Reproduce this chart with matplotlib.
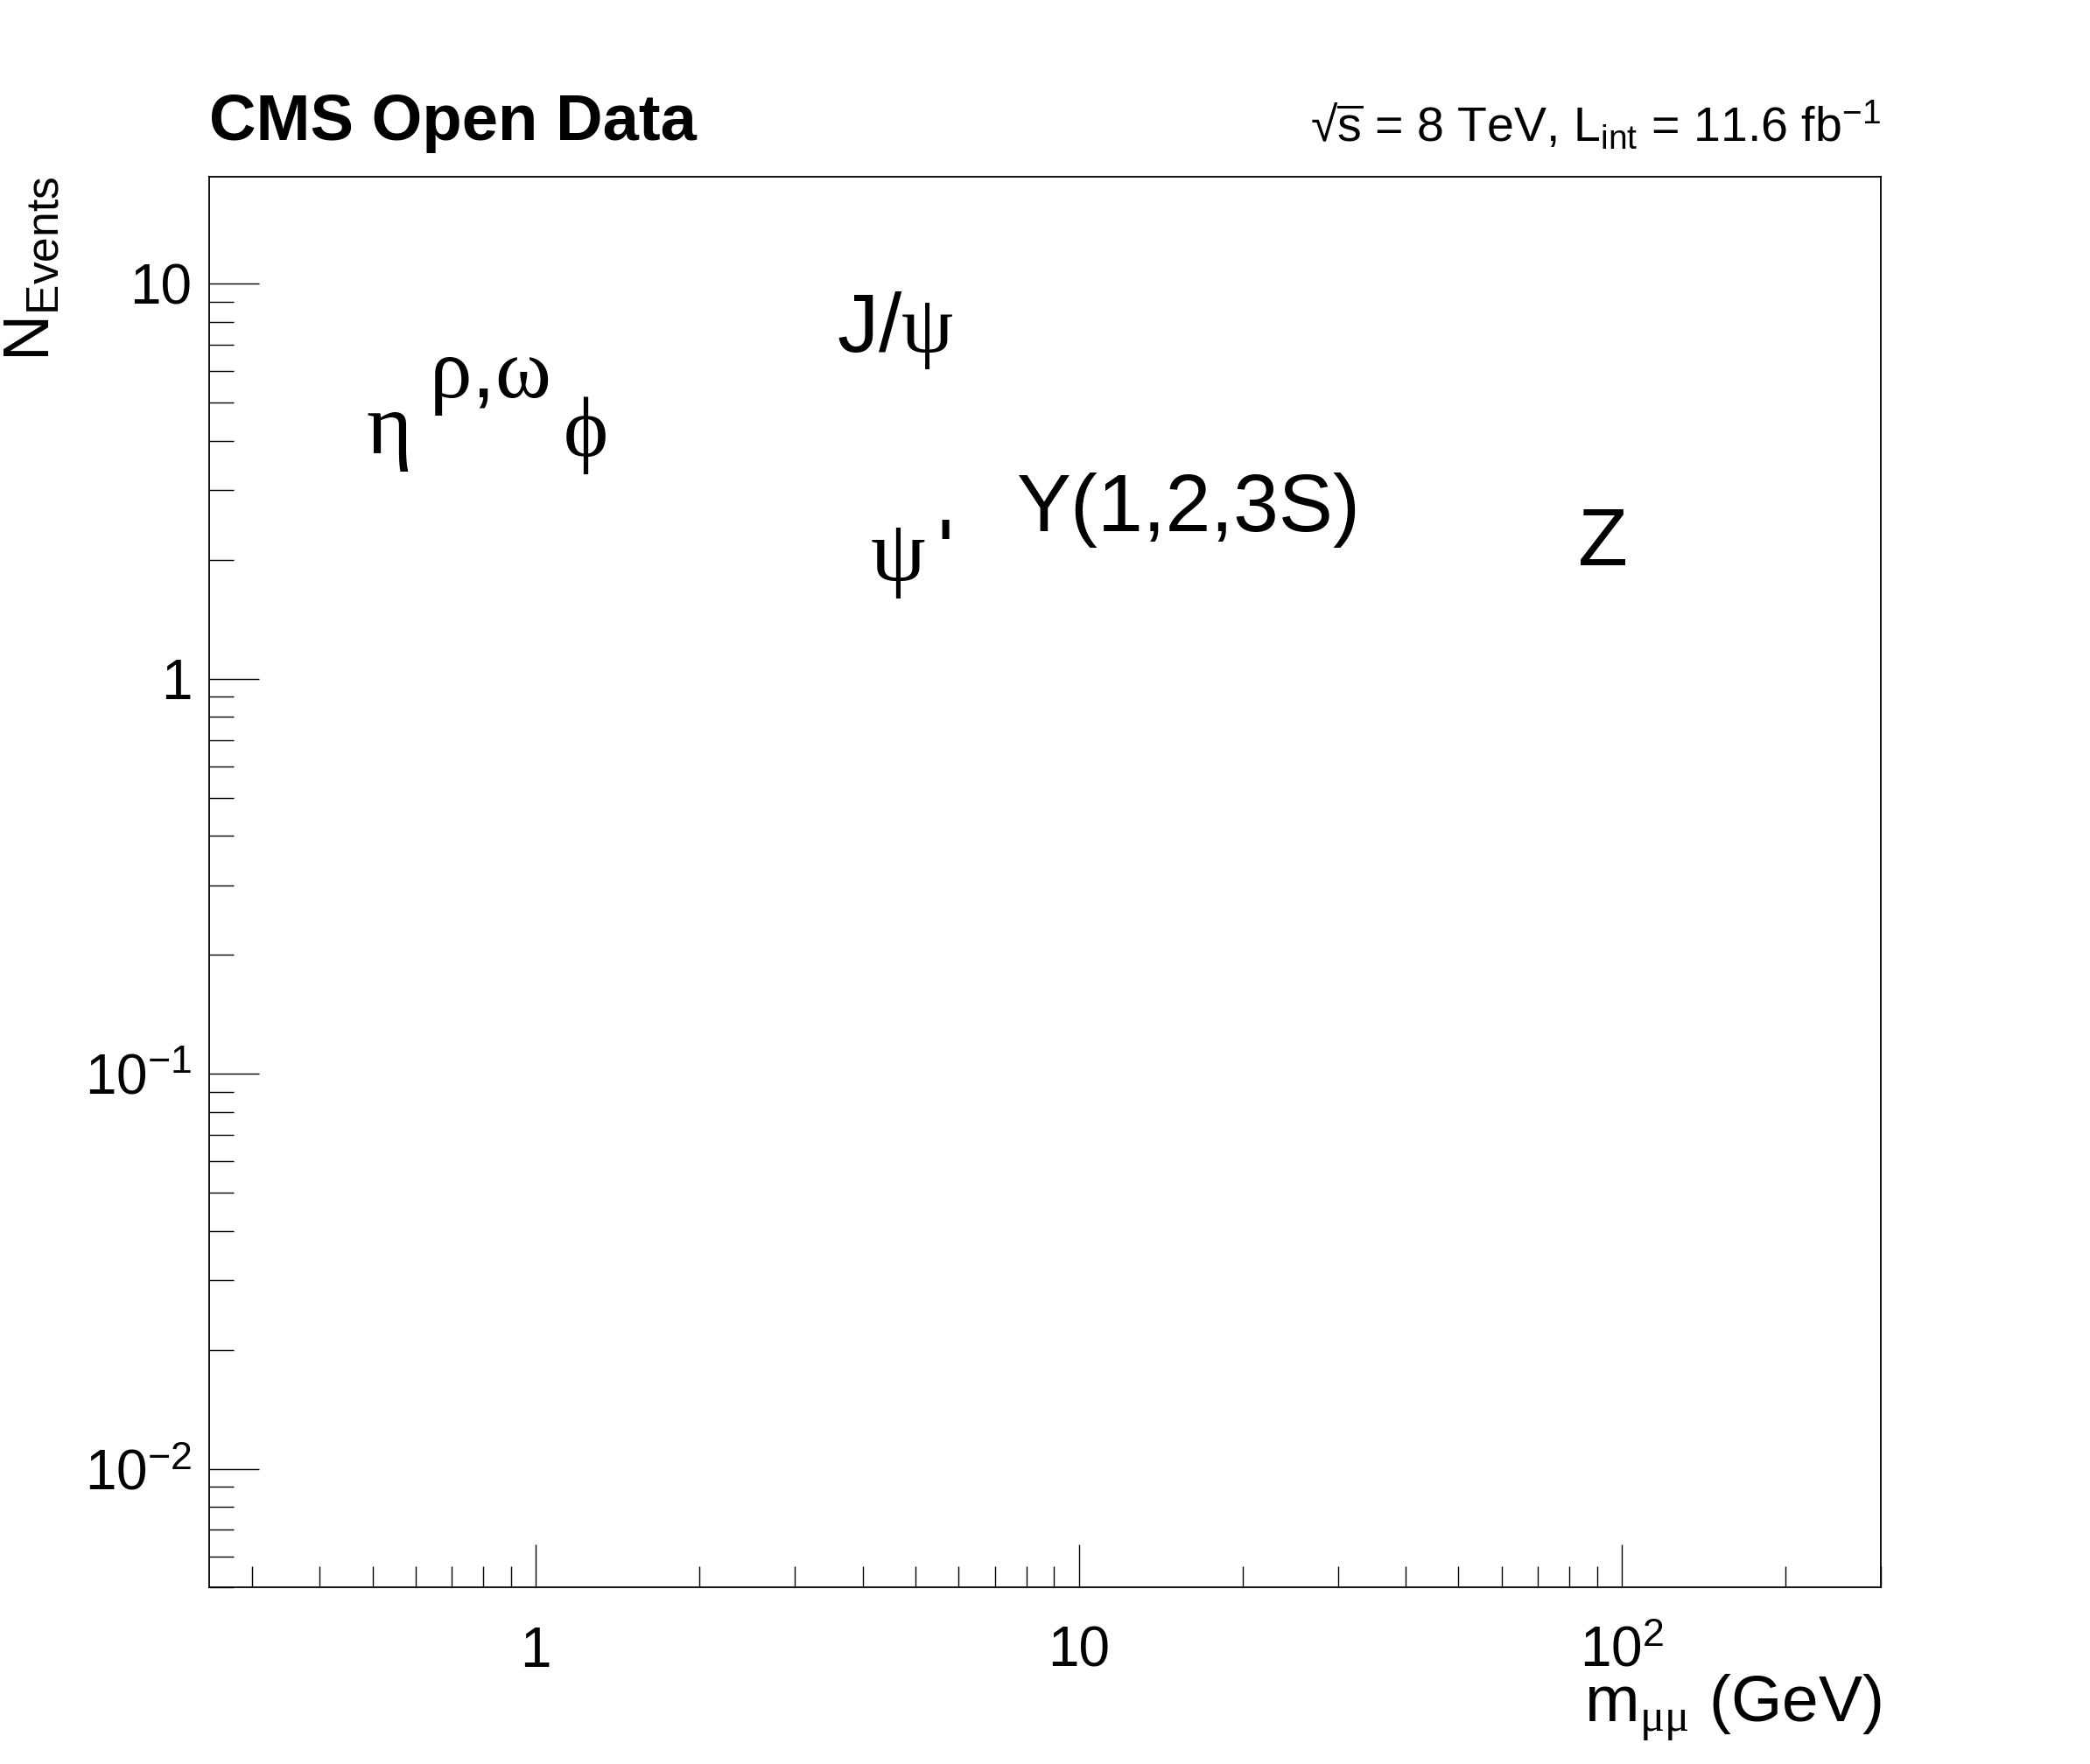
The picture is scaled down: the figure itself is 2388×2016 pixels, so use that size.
import matplotlib
matplotlib.use("Agg")
import matplotlib.pyplot as plt
from matplotlib.ticker import LogLocator, FuncFormatter, NullFormatter
import numpy as np

plt.rcParams['font.family'] = ['Liberation Sans', 'DejaVu Sans']
plt.rcParams['mathtext.fontset'] = 'custom'
plt.rcParams['mathtext.rm'] = 'Liberation Sans'
plt.rcParams['mathtext.it'] = 'Liberation Sans:italic'
plt.rcParams['mathtext.bf'] = 'Liberation Sans:bold'
plt.rcParams['mathtext.sf'] = 'Liberation Serif'

# ---- data ----
resonance_labels = [r'$\mathsf{\eta}$', r'$\mathsf{\rho}$,$\mathsf{\omega}$', r'$\mathsf{\phi}$',
                    r'J/$\mathsf{\psi}$', r"$\mathsf{\psi}\,$'", 'Y(1,2,3S)', 'Z']
resonance_x = [0.487, 0.636, 1.12, 3.58, 4.12, 7.69, 83.0]
resonance_y = [3.73, 5.16, 3.66, 6.73, 1.78, 2.37, 1.94]
resonance_size = [72, 70, 70, 68, 72, 67, 67]
x_limits = [0.25, 300.0]
y_limits = [0.005, 18.7]
title_left = 'CMS Open Data'
title_right = r'√$\overline{\mathrm{s}}$ = 8 TeV, L$_{\mathrm{int}}$ = 11.6 fb$^{\mathrm{-1}}$'
x_title = r'm$_{\mathsf{\mu\mu}}$ (GeV)'
y_title = r'N$_{\mathrm{Events}}$'

W, H = 2388, 2016
fig = plt.figure(figsize=(W / 100, H / 100), dpi=100)
ax = fig.add_axes([0.1, 0.1, 0.8, 0.8])
ax.set_xscale('log')
ax.set_yscale('log')
ax.set_xlim(*x_limits)
ax.set_ylim(*y_limits)

for sp in ax.spines.values():
    sp.set_linewidth(1.3)


def fmt(v, pos):
    e = int(round(np.log10(v)))
    if e == 0:
        return '1'
    if e == 1:
        return '10'
    return r'$\mathrm{10^{%d}}$' % e


ax.xaxis.set_major_locator(LogLocator(base=10, numticks=20))
ax.yaxis.set_major_locator(LogLocator(base=10, numticks=20))
ax.xaxis.set_minor_locator(LogLocator(base=10, subs=np.arange(2, 10), numticks=50))
ax.yaxis.set_minor_locator(LogLocator(base=10, subs=np.arange(2, 10), numticks=50))
ax.xaxis.set_major_formatter(FuncFormatter(fmt))
ax.yaxis.set_major_formatter(FuncFormatter(fmt))
ax.xaxis.set_minor_formatter(NullFormatter())
ax.yaxis.set_minor_formatter(NullFormatter())

ax.tick_params(axis='both', which='both', direction='in', top=False, right=False,
               labelsize=46, width=1.0)
ax.tick_params(axis='y', which='major', length=41, pad=14)
ax.tick_params(axis='y', which='minor', length=20.5)
ax.tick_params(axis='x', which='major', length=35, pad=65)
ax.tick_params(axis='x', which='minor', length=17.5)
for lbl in ax.get_xticklabels():
    lbl.set_va('baseline')

# axis titles
ax.set_xlabel(x_title, fontsize=54, ha='right', va='baseline')
ax.xaxis.set_label_coords(1.0, -0.095)
ax.set_ylabel(y_title, fontsize=53, ha='right', va='bottom')
ax.yaxis.set_label_coords(-0.088, 1.0)

# headers
fig.text(0.1, 1 - 160 / H, title_left, fontsize=53.5, fontweight='bold',
         ha='left', va='baseline')
fig.text(0.9, 1 - 161 / H, title_right, fontsize=40, ha='right', va='baseline')

# resonance labels
for lab, x, y, s in zip(resonance_labels, resonance_x, resonance_y, resonance_size):
    ax.text(x, y, lab, fontsize=s, ha='left', va='baseline')

fig.savefig('out.png', dpi=100)
